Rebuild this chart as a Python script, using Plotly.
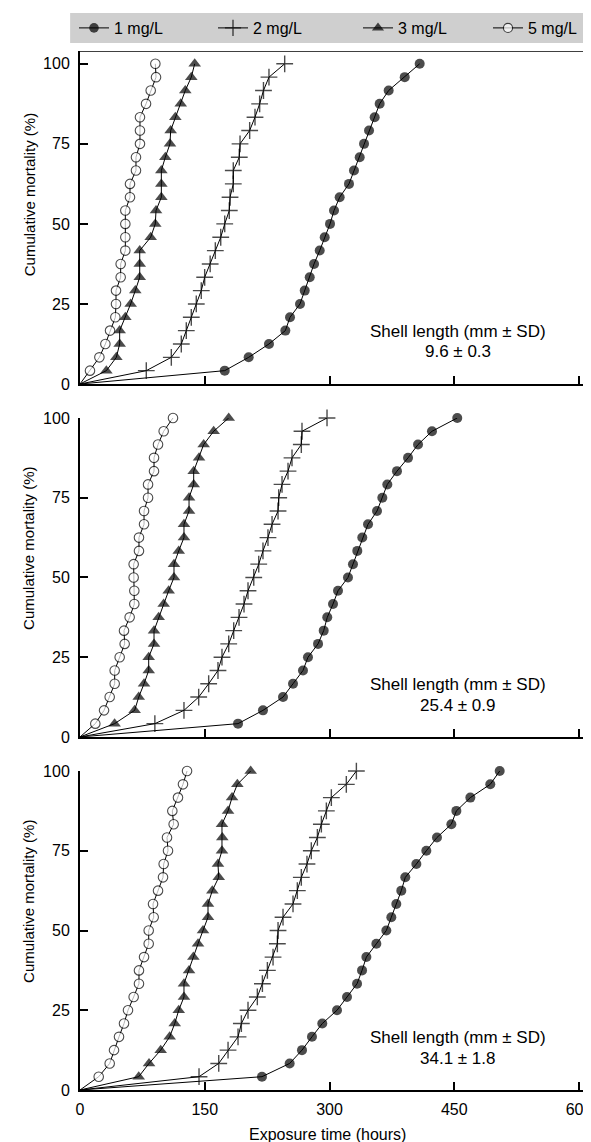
import plotly.graph_objects as go

# ---------------- data ----------------
cum_mortality = [4.17, 8.33, 12.5, 16.67, 20.83, 25.0, 29.17, 33.33, 37.5, 41.67,
                 45.83, 50.0, 54.17, 58.33, 62.5, 66.67, 70.83, 75.0, 79.17, 83.33,
                 87.5, 91.67, 95.83, 100.0]

concentrations = ["1 mg/L", "2 mg/L", "3 mg/L", "5 mg/L"]
shell_labels = ["9.6 \u00b1 0.3", "25.4 \u00b1 0.9", "34.1 \u00b1 1.8"]
x_ticks = [0, 150, 300, 450, 600]
y_ticks = [0, 25, 50, 75, 100]

# panel 1: shell length 9.6 mm  (exposure hours for each cumulative mortality step)
p1_1mg = [174, 202.8, 227.2, 246.9, 252.5, 264.5, 270.2, 276.2, 281.4, 288.2, 294.2, 300.6,
          305.4, 312.2, 323.4, 329.4, 336.3, 341.5, 347.5, 354.3, 360.3, 371.1, 390.4, 408.4]
p1_2mg = [79.7, 109.8, 121.8, 127.8, 133.8, 139.8, 145.8, 149.9, 156.5, 162.7, 169.2, 174,
          179.5, 180.4, 184.3, 184.3, 191.5, 192.4, 204, 210.4, 216, 220.6, 227.2, 246.1]
p1_3mg = [31.7, 43.7, 47.7, 47.7, 54.5, 60.9, 66.5, 71.8, 71.8, 71.8, 85, 90.5,
          91.4, 97.8, 97.8, 97.8, 102.6, 108.2, 109, 114.6, 121.1, 126.6, 133.8, 137.9]
p1_5mg = [12, 23.3, 30.5, 36.1, 42.5, 43.3, 43.3, 48.9, 48.9, 54.5, 54.5, 54.5,
          54.5, 60.1, 60.1, 67.3, 67.3, 72.1, 72.1, 72.1, 79.4, 85, 91.4, 90.6]

# panel 2: shell length 25.4 mm
p2_1mg = [190, 220, 244.1, 256.1, 268.1, 274.1, 286.2, 293, 297.3, 304.2, 310.2, 322.2,
          328.2, 333.4, 339.4, 346.3, 357.1, 363.5, 369.5, 381.1, 394.4, 406.4, 423.2, 453.6]
p2_2mg = [90, 125, 142.7, 154.7, 165.9, 170.7, 178.8, 184.8, 191.2, 197.2, 202, 208.9,
          214.9, 220, 226, 230.9, 238.1, 238.9, 242.9, 250.1, 254.9, 266.1, 266.9, 297]
p2_3mg = [41.6, 65.7, 70.6, 77, 82.6, 82.6, 89, 89, 94.6, 100.6, 106.6, 113,
          113, 118.7, 125, 125, 131.1, 131.1, 136.7, 136.7, 143.1, 148.7, 160.7, 178.8]
p2_5mg = [18.4, 28.9, 35.7, 41.7, 41.7, 47.7, 53.7, 52.9, 59.7, 65.3, 65.3, 64.5,
          64.5, 70.9, 70.9, 77, 77, 81.8, 81.8, 89, 89, 93.8, 100.6, 111.8]

# panel 3: shell length 34.1 mm
p3_1mg = [218.8, 252.1, 266.9, 278.9, 291.3, 309, 321, 333.1, 339.1, 344.3, 356.3, 368.3,
          374.3, 380.3, 386.3, 391.1, 404.4, 416.4, 429.2, 446.5, 452.5, 469.3, 493.3, 504.6]
p3_2mg = [143.1, 166.8, 178, 190, 194, 202, 213.2, 219.3, 225.3, 232.1, 237.3, 238.1,
          244.1, 256.1, 261.3, 266.1, 272.9, 278.1, 285.4, 290.2, 296.2, 302.2, 320.2, 332.3]
p3_3mg = [70.6, 83, 97, 107.8, 113.9, 118.7, 125, 125, 131.1, 136.3, 141.9, 147.9,
          153.9, 153.9, 159.1, 166.8, 165.9, 170.7, 171.1, 170.7, 178, 182.8, 189.2, 205.2]
p3_5mg = [22.5, 35.7, 40.9, 46.9, 52.9, 57.7, 64.5, 70.9, 70.9, 77, 82.6, 82.6,
          88.6, 87.8, 93.8, 99.8, 100.6, 105.8, 104.6, 112.6, 111, 117.8, 123.8, 128.7]

panels = [
    [p1_1mg, p1_2mg, p1_3mg, p1_5mg],
    [p2_1mg, p2_2mg, p2_3mg, p2_5mg],
    [p3_1mg, p3_2mg, p3_3mg, p3_5mg],
]

# ---------------- styles ----------------
FONT = "Liberation Sans, Arial, Helvetica, sans-serif"
W, H = 591, 1142
marker_styles = [
    dict(symbol="circle", size=10, color="black", line=dict(width=0)),
    dict(symbol="cross-thin", size=12, color="black", line=dict(width=1.4, color="black")),
    dict(symbol="triangle-up", size=11, color="black", line=dict(width=0)),
    dict(symbol="circle", size=9.5, color="white", line=dict(width=1.1, color="black")),
]
legend_ids = ["legend", "legend2", "legend3", "legend4"]
legend_left_px = [66, 205, 350, 480]

fig = go.Figure()
for pi, series in enumerate(panels):
    xa = "x" if pi == 0 else f"x{pi+1}"
    ya = "y" if pi == 0 else f"y{pi+1}"
    for si, xs in enumerate(series):
        ms = dict(marker_styles[si])
        ms["size"] = [0] + [marker_styles[si]["size"]] * len(xs)
        fig.add_trace(go.Scatter(
            x=[0] + xs, y=[0] + cum_mortality,
            mode="lines+markers",
            line=dict(color="black", width=1),
            marker=ms,
            name=concentrations[si],
            legend=legend_ids[si],
            showlegend=(pi == 0),
            xaxis=xa, yaxis=ya,
            cliponaxis=False,
        ))

domains = [[0.6795, 1.0], [0.3398, 0.6468], [0.0, 0.3070]]
yranges = [[0, 104], [0, 100], [0, 100]]

axis_common = dict(
    showline=True, linecolor="black", linewidth=2,
    ticks="inside", ticklen=8, tickwidth=1.5, tickcolor="black",
    showgrid=False, zeroline=False,
    tickfont=dict(family=FONT, size=16, color="black"),
)

layout = dict(
    width=W, height=H,
    margin=dict(l=72, r=0, t=43, b=60, autoexpand=False),
    plot_bgcolor="white", paper_bgcolor="white",
    font=dict(family=FONT, size=16, color="black"),
    annotations=[],
    shapes=[],
)

for li, lid in enumerate(legend_ids):
    layout[lid] = dict(
        orientation="h", xref="container", x=legend_left_px[li] / W, xanchor="left",
        yref="container", y=1 - 20 / H, yanchor="middle",
        bgcolor="rgba(0,0,0,0)", borderwidth=0,
        font=dict(family=FONT, size=16, color="black"),
        itemwidth=30,
    )

for pi in range(3):
    xkey = "xaxis" if pi == 0 else f"xaxis{pi+1}"
    ykey = "yaxis" if pi == 0 else f"yaxis{pi+1}"
    xa = "x" if pi == 0 else f"x{pi+1}"
    ya = "y" if pi == 0 else f"y{pi+1}"
    layout[xkey] = dict(axis_common, range=[0, 624], tickvals=x_ticks, anchor=ya,
                        domain=[0, 1], showticklabels=(pi == 2), ticklabelstandoff=4)
    layout[ykey] = dict(axis_common, range=yranges[pi], tickvals=y_ticks, anchor=xa,
                        domain=domains[pi], ticklabelstandoff=5)
    layout["annotations"].append(dict(
        text="Cumulative mortality (%)", xref="paper", x=-0.098, yref=ya, y=59,
        textangle=-90, showarrow=False, xanchor="center", yanchor="middle",
        font=dict(family=FONT, size=15, color="black")))
    layout["annotations"].append(dict(
        text="Shell length (mm \u00b1 SD)", xref=xa, x=455, yref=ya, y=16.5,
        showarrow=False, xanchor="center", yanchor="middle",
        font=dict(family=FONT, size=17, color="black")))
    layout["annotations"].append(dict(
        text=shell_labels[pi], xref=xa, x=455, yref=ya, y=10,
        showarrow=False, xanchor="center", yanchor="middle",
        font=dict(family=FONT, size=17, color="black")))

layout["annotations"].append(dict(
    text="Exposure time (hours)", xref="x3", x=297, yref="paper", y=-(1126 - 1082) / 1039,
    showarrow=False, xanchor="center", yanchor="middle",
    font=dict(family=FONT, size=16, color="black")))

# legend band (textured grey strip in the original)
layout["shapes"].append(dict(type="rect", xref="paper", x0=-0.019, x1=1.0,
                             yref="paper", y0=1 + (43 - 35) / 1039, y1=1 + (43 - 5) / 1039,
                             fillcolor="#cfcfcf", line=dict(width=0), layer="below"))
# top frame line of first panel
layout["shapes"].append(dict(type="line", xref="paper", x0=0, x1=1, yref="y", y0=104, y1=104,
                             line=dict(color="black", width=1.5)))

fig.update_layout(**layout)
fig.write_html("out.html")
